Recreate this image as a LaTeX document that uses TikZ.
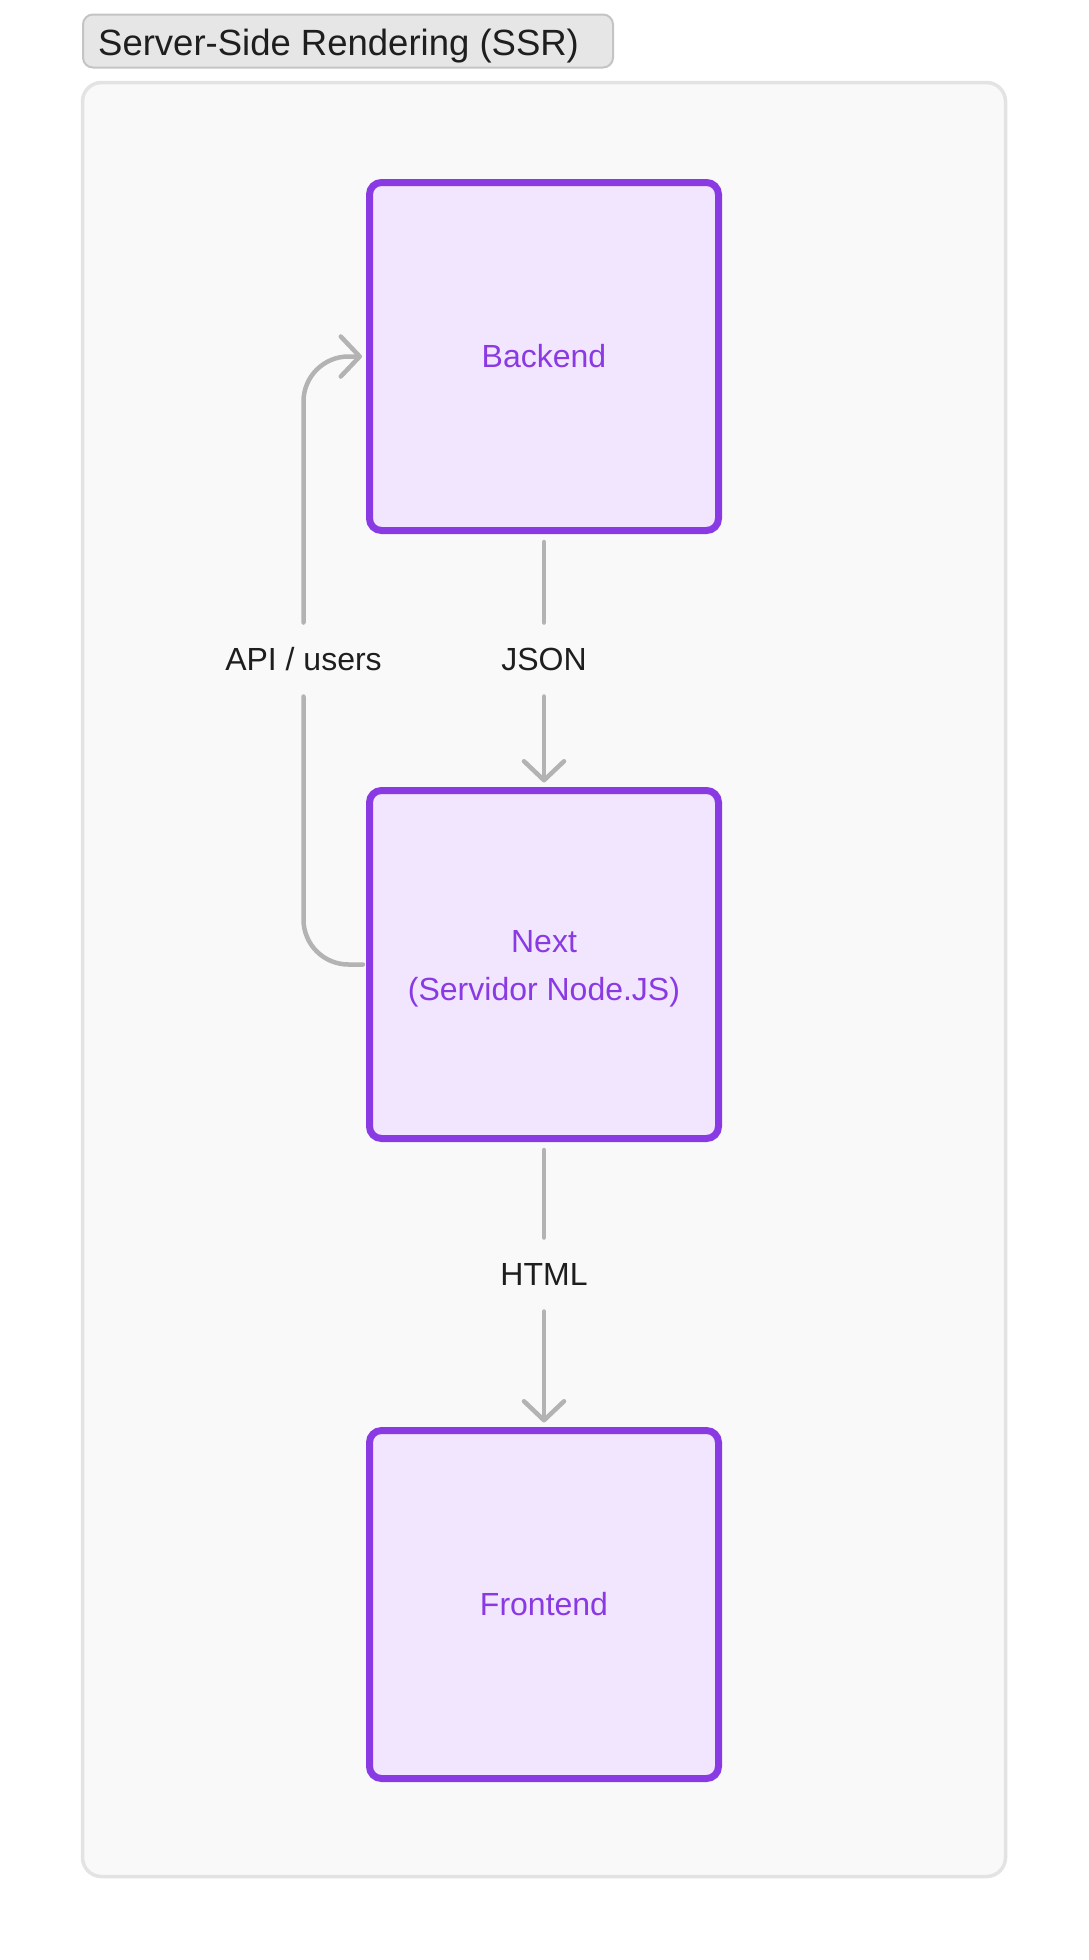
\documentclass[tikz,border=0pt]{standalone}
\usepackage{fontspec}
\setmainfont{Liberation Sans}
\usetikzlibrary{arrows.meta}
\definecolor{purp}{HTML}{8A3AE3}
\definecolor{purpfill}{HTML}{F2E5FE}
\definecolor{linkgrey}{HTML}{B3B3B3}
\definecolor{contfill}{HTML}{F9F9F9}
\definecolor{contdraw}{HTML}{E3E3E3}
\definecolor{titlefill}{HTML}{E6E6E6}
\definecolor{titledraw}{HTML}{C4C4C4}
\definecolor{ink}{HTML}{1E1E1E}
\begin{document}
\begin{tikzpicture}[x=1pt,y=-1pt,
  box/.style={draw=purp, fill=purpfill, line width=7pt, rounded corners=12pt,
    minimum width=349pt, minimum height=348pt, inner sep=0pt, outer sep=0pt,
    text=purp, font=\fontsize{32}{48}\selectfont, align=center},
  boxtext/.style={text=purp, font=\fontsize{32}{48}\selectfont, align=center, inner sep=0pt},
  lbl/.style={text=ink, font=\fontsize{32}{38}\selectfont, minimum height=76pt,
    inner sep=0pt, outer sep=0pt},
  link/.style={draw=linkgrey, line width=4.5pt, line cap=round, line join=round},
  tiphead/.style={-{Straight Barb[length=19pt,width=40pt,round]}}
]
\useasboundingbox[fill=white] (0,0) rectangle (1088,1960);

% container
\node[draw=contdraw, fill=contfill, line width=3.5pt, rounded corners=19pt,
  minimum width=923pt, minimum height=1794pt, inner sep=0pt, outer sep=0pt]
  (frame) at (544,979.5) {};

% title
\node[draw=titledraw, fill=titlefill, line width=2pt, rounded corners=10pt,
  anchor=north west, minimum width=530pt, minimum height=53pt, inner sep=0pt]
  (title) at (82,13.5) {};
\node[anchor=base west, text=ink, font=\fontsize{36.5}{40}\selectfont, inner sep=0pt]
  (titletext) at (98,55.5) {Server-Side Rendering (SSR)};

% boxes
\node[box] (backend) at (544,356.5) {Backend};
\node[box] (next) at (544,964.5) {};
\node[boxtext] (nexttext) at (544,968.5) {Next\\(Servidor Node.JS)};
\node[box] (frontend) at (544,1604.5) {Frontend};

% labels
\node[lbl] (json) at (544,659.5) {JSON};
\node[lbl] (html) at (544,1274.5) {HTML};
\node[lbl] (api) at (303.5,659.5) {API / users};

% connectors
\draw[link] ([yshift=-11.5pt]backend.south) -- ([yshift=-1pt]json.north);
\draw[link,tiphead] ([yshift=1pt]json.south) -- ([yshift=8pt]next.north);
\draw[link] ([yshift=-11.5pt]next.south) -- ([yshift=-1pt]html.north);
\draw[link,tiphead] ([yshift=1pt]html.south) -- ([yshift=8pt]frontend.north);
\draw[link, rounded corners=45pt] ([xshift=-6.5pt]next.west) -| ([yshift=1pt]api.south);
\draw[link, tiphead, rounded corners=45pt] ([yshift=-1pt]api.north) |- ([xshift=-7.5pt]backend.west);
\end{tikzpicture}
\end{document}
